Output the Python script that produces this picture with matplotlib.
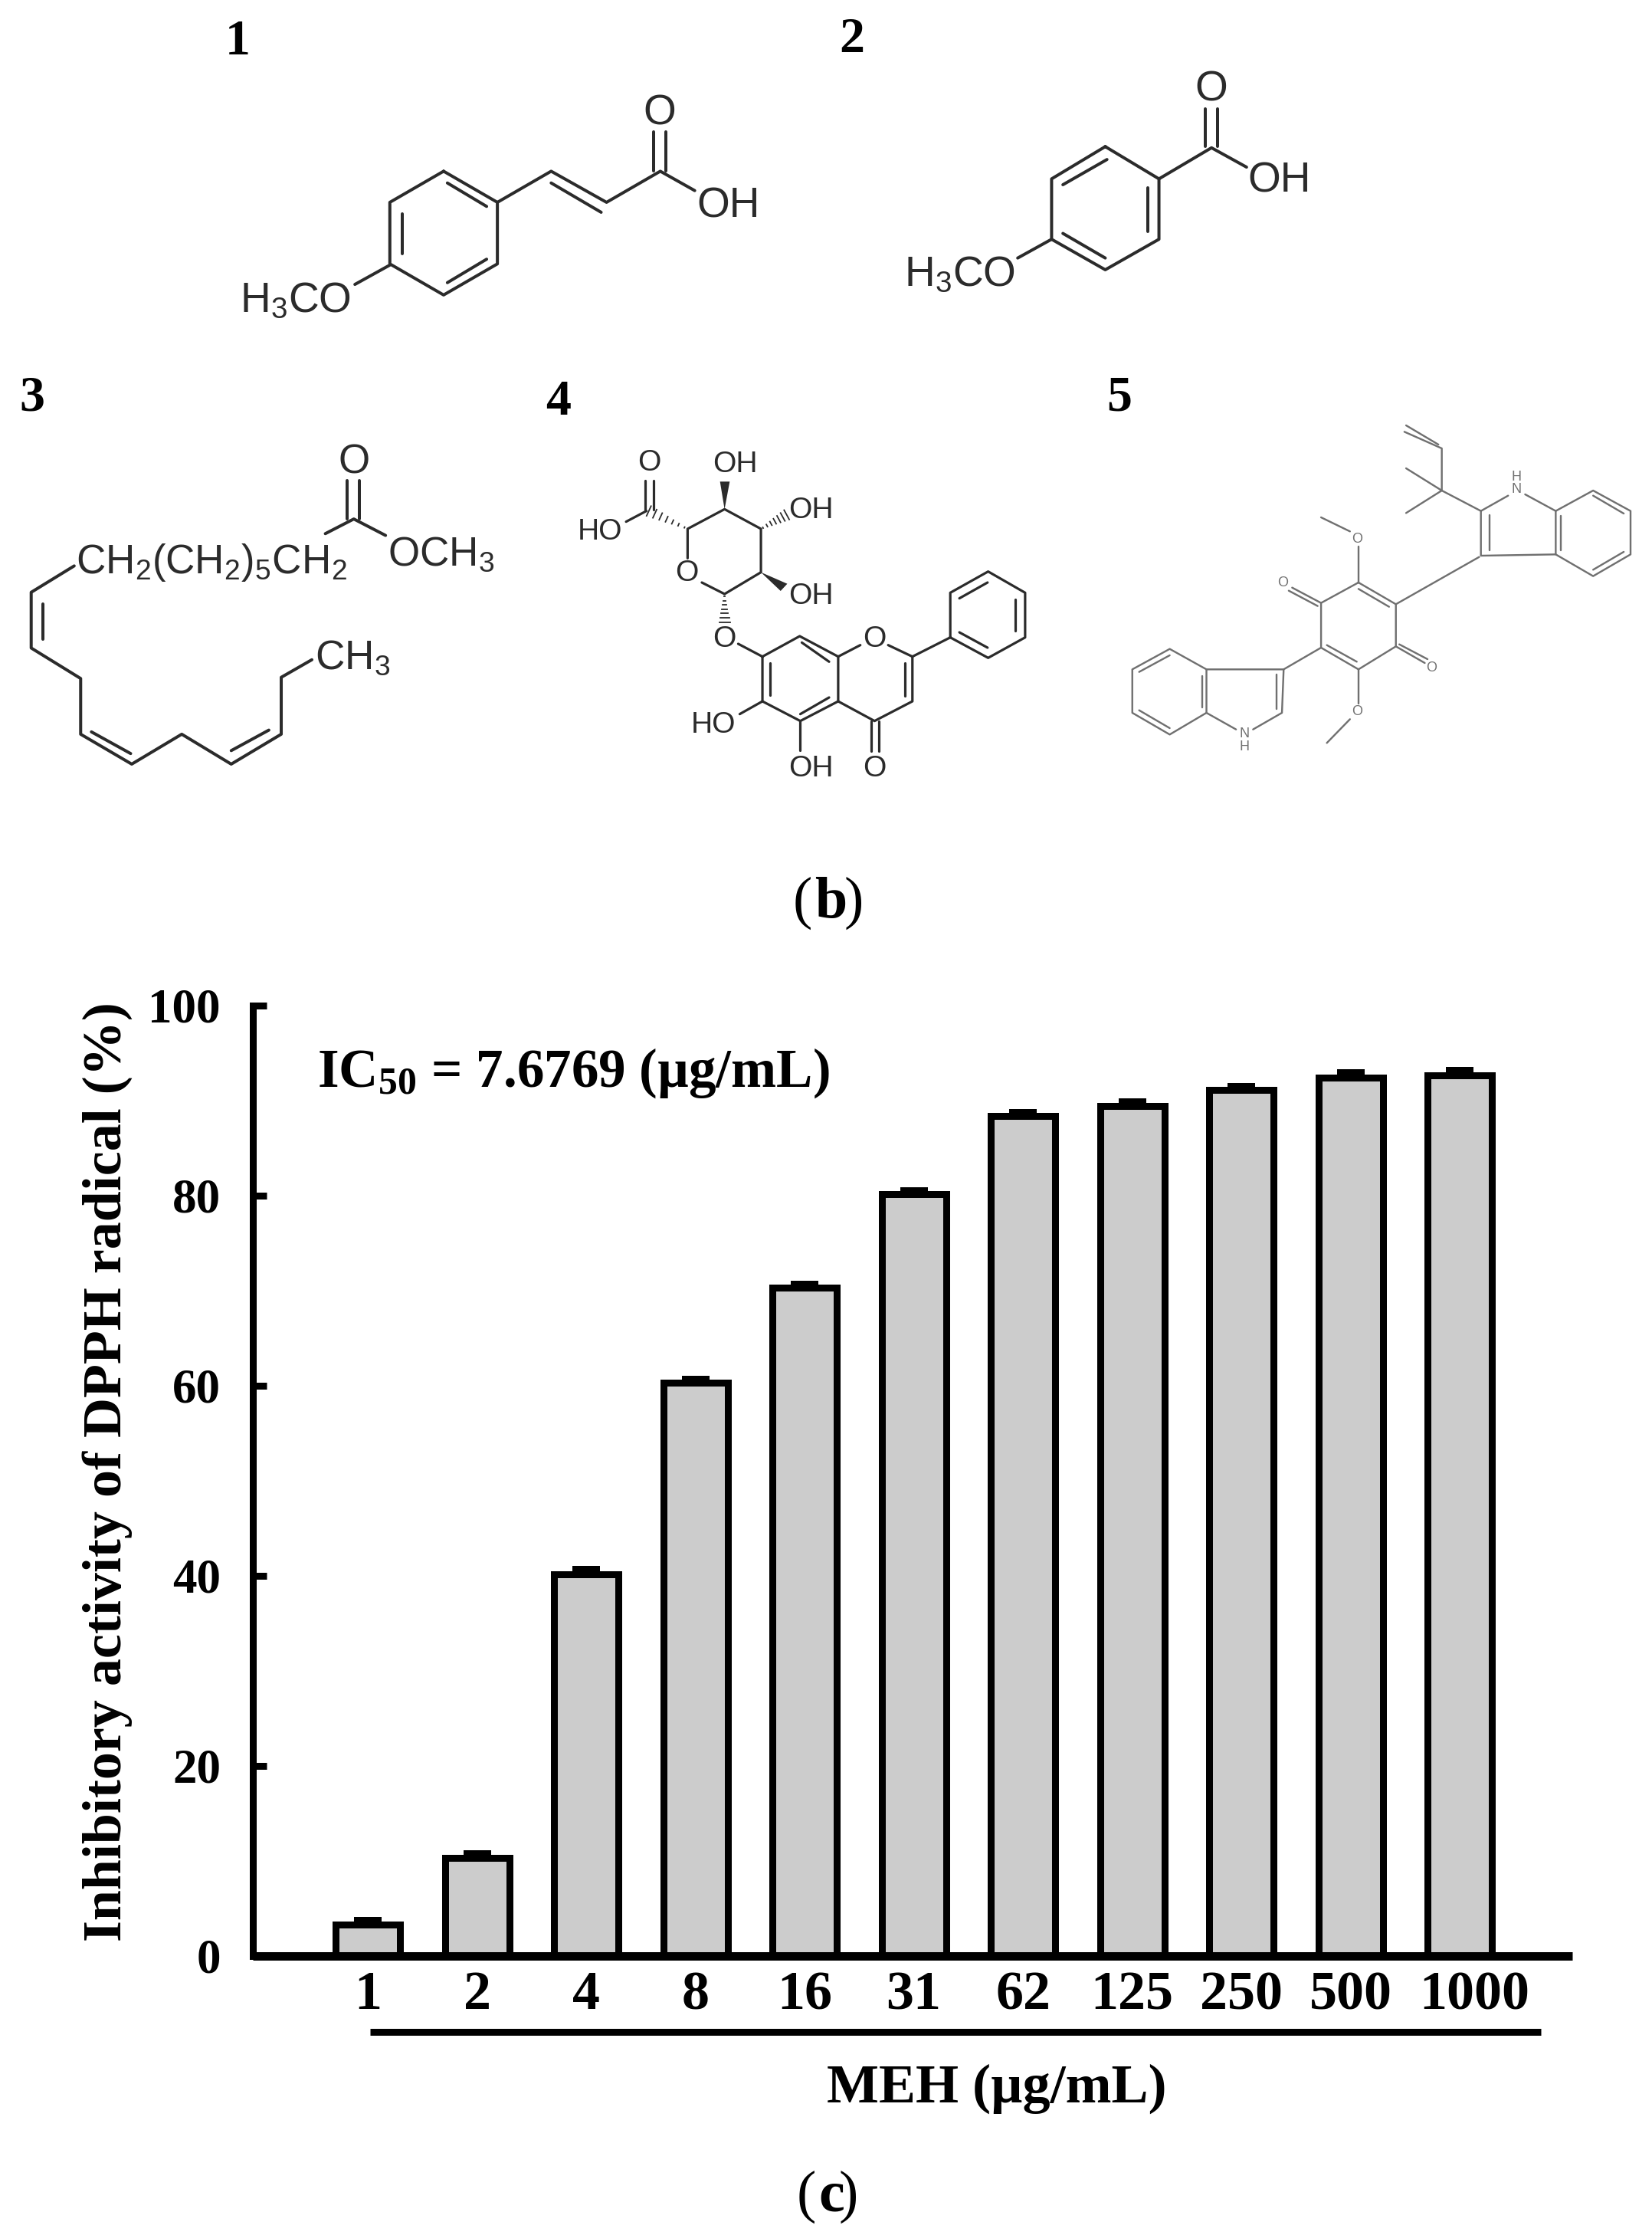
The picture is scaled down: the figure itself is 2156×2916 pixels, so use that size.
import matplotlib
matplotlib.use("Agg")
import matplotlib.pyplot as plt
import numpy as np

# bar chart data
doses = ["1", "2", "4", "8", "16", "31", "62", "125", "250", "500", "1000"]
inhibition = [3.3, 10.3, 40.2, 60.3, 70.3, 80.2, 88.4, 89.4, 91.1, 92.4, 92.7]
errors = [0.5, 0.5, 0.5, 0.4, 0.4, 0.4, 0.4, 0.5, 0.4, 0.6, 0.5]
y_ticks = [0, 20, 40, 60, 80, 100]

W, H = 2156, 2916
DPI = 100
SERIF = "Liberation Serif"
SANS = "Liberation Sans"

plt.rcParams["mathtext.default"] = "regular"


def pt(px):
    return px * 72 / DPI


# crop coordinates -> picture pixels
def left_view(p):
    return (p[0] / 1.425, p[1] / 1.307)


def right_view(p):
    return (1000 + p[0] / 1.356, p[1] / 1.307)


def view4(p):
    return (740 + p[0] / 2.529, 570 + p[1] / 3)


def view5(p):
    return (1460 + p[0] / 2.253, 530 + p[1] / 3)


# molecule drawings, one polyline per row
mol1_bonds = [
    [(825, 292), (925, 345), (925, 450), (825, 503), (725, 450), (725, 345), (825, 292)],
    [(832, 312), (905, 352)], [(748, 365), (748, 432)], [(832, 482), (905, 442)],
    [(725, 452), (660, 485)],
    [(925, 345), (1025, 292), (1128, 345), (1228, 292), (1292, 325)],
    [(1025, 312), (1118, 362)],
    [(1215, 292), (1215, 225)], [(1238, 292), (1238, 225)],
]
mol1_labels = [("O", 1226, 190), ("OH", 1355, 348), ("H$_3$CO", 550, 510)]

mol2_bonds = [
    [(600, 250), (695, 305), (695, 408), (600, 460), (505, 408), (505, 305), (600, 250)],
    [(603, 272), (525, 315)], [(675, 320), (675, 395)], [(600, 440), (525, 398)],
    [(695, 305), (788, 252), (850, 285)],
    [(777, 250), (777, 185)], [(799, 250), (799, 185)],
    [(505, 408), (445, 440)],
]
mol2_labels = [("O", 787, 150), ("OH", 908, 305), ("H$_3$CO", 342, 466)]

mol3_bonds = [
    [(605, 910), (658, 885), (717, 913)],
    [(645, 885), (645, 820)], [(668, 885), (668, 820)],
    [(138, 965), (58, 1010), (58, 1105), (150, 1157), (150, 1252), (245, 1303),
     (338, 1252), (430, 1303), (523, 1252), (523, 1155), (580, 1125)],
    [(80, 1030), (80, 1090)], [(170, 1248), (243, 1285)], [(430, 1280), (500, 1245)],
]
mol3_labels = [("O", 658, 785), ("OCH$_3$", 820, 942),
               ("CH$_2$(CH$_2$)$_5$CH$_2$", 393, 955), ("CH$_3$", 656, 1118)]

mol4_bonds = [
    [(445, 570), (520, 615), (640, 530), (640, 360), (520, 283), (398, 360), (398, 475)],
    [(258, 285), (258, 170)], [(285, 285), (285, 170)], [(262, 290), (195, 332)],
    [(565, 810), (645, 860), (768, 780), (895, 860), (895, 1035), (770, 1112), (645, 1035), (645, 860)],
    [(775, 805), (865, 880)], [(670, 885), (670, 1010)], [(770, 1085), (865, 1020)],
    [(895, 860), (968, 815)], [(1060, 815), (1140, 860), (1140, 1035), (1015, 1112), (895, 1035)],
    [(1115, 885), (1115, 1015)],
    [(1003, 1112), (1003, 1230)], [(1030, 1112), (1030, 1230)],
    [(645, 1035), (570, 1085)], [(770, 1112), (770, 1228)],
    [(1140, 860), (1265, 785), (1390, 865), (1512, 785), (1512, 610), (1390, 527), (1265, 610), (1265, 785)],
    [(1295, 765), (1388, 825)], [(1480, 635), (1480, 760)], [(1295, 632), (1388, 570)],
]
mol4_wedges = [[(520, 283), (505, 175), (537, 175)], [(640, 530), (705, 603), (727, 575)]]
mol4_hashes = [[(398, 360), (270, 290)], [(640, 360), (725, 305)], [(520, 615), (520, 725)]]
mol4_labels = [("O", 272, 100), ("HO", 110, 370), ("OH", 555, 105), ("OH", 805, 285),
               ("OH", 805, 620), ("O", 395, 530), ("O", 520, 790), ("O", 1015, 790),
               ("HO", 482, 1125), ("OH", 805, 1295), ("O", 1015, 1295)]

mol5_bonds = [
    [(705, 690), (815, 775), (815, 940), (705, 1030), (595, 945), (595, 770), (705, 690)],
    [(705, 715), (795, 785)], [(612, 935), (700, 1000)],
    [(595, 770), (510, 710)], [(585, 782), (500, 722)],
    [(815, 940), (900, 1005)], [(825, 932), (908, 990)],
    [(705, 690), (705, 550)], [(680, 490), (595, 435)],
    [(705, 1030), (705, 1165)], [(680, 1225), (612, 1318)],
    [(815, 775), (1060, 590)],
    [(1145, 350), (1065, 410), (1065, 585), (1285, 580), (1285, 410), (1195, 345)],
    [(1090, 425), (1090, 565)], [(1300, 430), (1300, 565)],
    [(1285, 410), (1395, 330), (1505, 410), (1505, 580), (1395, 665), (1285, 580)],
    [(1395, 350), (1485, 420)], [(1485, 570), (1395, 640)],
    [(1065, 410), (950, 330), (845, 243)], [(950, 330), (845, 418)],
    [(950, 330), (950, 165), (840, 100)], [(940, 150), (845, 75)],
    [(595, 945), (485, 1030), (480, 1200), (395, 1265)], [(485, 1030), (258, 1030), (258, 1200), (345, 1265)],
    [(465, 1050), (465, 1185)], [(245, 1055), (245, 1180)],
    [(258, 1030), (150, 950), (40, 1030), (40, 1200), (150, 1285), (258, 1200)],
    [(150, 975), (60, 1040)], [(60, 1190), (150, 1260)],
]
mol5_labels = [("O", 482, 690), ("O", 920, 1025), ("O", 702, 520), ("O", 702, 1195),
               ("N", 1170, 325), ("H", 1170, 278), ("N", 370, 1283), ("H", 370, 1332)]

compound_numbers = [("1", 310, 55), ("2", 1112, 52), ("3", 42, 519), ("4", 729, 525), ("5", 1461, 519)]

fig = plt.figure(figsize=(W / DPI, H / DPI), dpi=DPI)

# bar chart, axes placed on the pixel box of the original
x0, x1, y_top, y_base = 330, 2052, 1312, 2552
ax = fig.add_axes([x0 / W, 1 - y_base / H, (x1 - x0) / W, (y_base - y_top) / H])
pos = np.arange(len(doses))
step = 142.5
ax.bar(pos, inhibition, width=84 / step, color="#cccccc", edgecolor="black", linewidth=pt(9))
ax.errorbar(pos, inhibition, yerr=[[0] * len(errors), errors], fmt="none", ecolor="black",
            elinewidth=pt(9), capsize=pt(18), capthick=pt(8))
ax.set_xlim(-(480 - x0) / step, (x1 - 480) / step)
ax.set_ylim(0, 100)
for s in ["top", "right"]:
    ax.spines[s].set_visible(False)
ax.spines["left"].set_linewidth(pt(9))
ax.spines["bottom"].set_linewidth(pt(11))
ax.spines["bottom"].set_capstyle("butt")
ax.set_yticks(y_ticks)
# the 1000 label sits a little right of its bar in the original
label_pos = pos.astype(float)
label_pos[-1] += 19 / step
ax.set_xticks(label_pos)
ax.set_xticklabels(doses)
ax.tick_params(axis="y", direction="in", length=pt(18), width=pt(9), pad=pt(42))
ax.tick_params(axis="x", length=0, pad=pt(19))
for lab in ax.get_yticklabels():
    lab.set_fontfamily(SERIF)
    lab.set_fontweight("bold")
    lab.set_fontsize(pt(63))
for lab in ax.get_xticklabels():
    lab.set_fontfamily(SERIF)
    lab.set_fontweight("bold")
    lab.set_fontsize(pt(72))

# overlay in picture pixels for the drawings and loose text
ov = fig.add_axes([0, 0, 1, 1], facecolor="none")
ov.set_xlim(0, W)
ov.set_ylim(H, 0)
ov.axis("off")


def draw_mol(bonds, labels, view, lw, color, size, wedges=(), hashes=(), dy=0):
    for b in bonds:
        pts = np.array([view(p) for p in b])
        ov.plot(pts[:, 0], pts[:, 1], color=color, lw=pt(lw), solid_capstyle="round", solid_joinstyle="round")
    for w in wedges:
        pts = np.array([view(p) for p in w])
        ov.fill(pts[:, 0], pts[:, 1], color=color, lw=0)
    for h in hashes:
        a, b = np.array(view(h[0])), np.array(view(h[1]))
        d = b - a
        n = np.array([-d[1], d[0]]) / np.hypot(*d)
        for t in np.linspace(0.08, 1, 7):
            c = a + d * t
            half = 7 * t
            ov.plot([c[0] - n[0] * half, c[0] + n[0] * half], [c[1] - n[1] * half, c[1] + n[1] * half],
                    color=color, lw=pt(1.8))
    for txt, x, y in labels:
        px, py = view((x, y))
        ov.text(px, py + dy, txt, family=SANS, fontsize=pt(size), color=color, ha="center", va="center")


draw_mol(mol1_bonds, mol1_labels, left_view, 4, "#2b2b2b", 55, dy=3)
draw_mol(mol2_bonds, mol2_labels, right_view, 4, "#2b2b2b", 55, dy=3)
draw_mol(mol3_bonds, mol3_labels, left_view, 4, "#2b2b2b", 53, dy=3)
draw_mol(mol4_bonds, mol4_labels, view4, 3.2, "#2b2b2b", 39, mol4_wedges, mol4_hashes, dy=1)
draw_mol(mol5_bonds, mol5_labels, view5, 2.4, "#707070", 18)

for txt, x, y in compound_numbers:
    ov.text(x, y, txt, family=SERIF, weight="bold", fontsize=pt(66), ha="center", va="center")

ov.text(1035, 1178, "(", family=SERIF, fontsize=pt(76), ha="left", va="center")
ov.text(1063, 1178, "b", family=SERIF, weight="bold", fontsize=pt(76), ha="left", va="center")
ov.text(1127, 1178, ")", family=SERIF, fontsize=pt(76), ha="right", va="center")
ov.text(1040, 2866, "(", family=SERIF, fontsize=pt(76), ha="left", va="center")
ov.text(1068, 2866, "c", family=SERIF, weight="bold", fontsize=pt(76), ha="left", va="center")
ov.text(1120, 2866, ")", family=SERIF, fontsize=pt(76), ha="right", va="center")

ov.text(140, 1920, "Inhibitory activity of DPPH radical (%)", family=SERIF, weight="bold",
        fontsize=pt(72), rotation=90, ha="center", va="center")
ov.text(414, 1400, "IC$_{50}$ = 7.6769 (µg/mL)", family=SERIF, weight="bold",
        fontsize=pt(71), ha="left", va="center")
ov.text(1301, 2725, "MEH (µg/mL)", family=SERIF, weight="bold", fontsize=pt(72), ha="center", va="center")
ov.plot([483, 2011], [2651, 2651], color="black", lw=pt(9), solid_capstyle="butt")

fig.savefig("out.png", dpi=DPI)
